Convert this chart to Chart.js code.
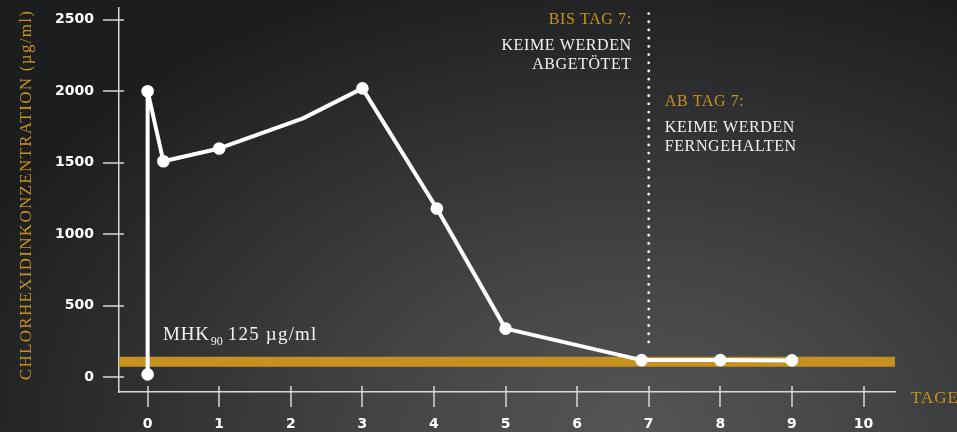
<!DOCTYPE html>
<html><head><meta charset="utf-8">
<script src="https://cdn.jsdelivr.net/npm/chart.js@4"></script>
<style>
html,body{margin:0;padding:0;width:957px;height:432px;overflow:hidden;}
body{background: radial-gradient(ellipse 75% 110% at 66% 100%, #545557 0%, #434446 35%, #2e2f31 70%, #1c1d1f 100%);}
#wrap{position:absolute;left:0;top:0;width:957px;height:432px;}
</style></head>
<body><div id="wrap"><canvas id="c" width="957" height="432"></canvas></div>
<script>
// Data
const days =   [0,  0,    0.22, 1,    2.17, 3,    4.04, 5,   6.9, 8,   9];
const conc =   [20, 2000, 1510, 1600, 1810, 2020, 1180, 340, 120, 120, 118];
const showDot= [1,  1,    1,    1,    0,    1,    1,    1,   1,   1,   1];
const xTicks = [0,1,2,3,4,5,6,7,8,9,10];
const yTicks = [0,500,1000,1500,2000,2500];
const mhkLevel = 109;
const dividerDay = 7;
const dividerRange = [247, 2575];
const xRange = [-0.4, 10.44];
const yRange = [-103, 2582];
const yTitle = 'CHLORHEXIDINKONZENTRATION (µg/ml)';
const xTitle = 'TAGE';
const leftNote = ['BIS TAG 7:', 'KEIME WERDEN', 'ABGETÖTET'];
const rightNote = ['AB TAG 7:', 'KEIME WERDEN', 'FERNGEHALTEN'];

const ORANGE = '#c8911b';
const AXIS = '#d9d9d9';
const SERIF = '"Liberation Serif", "DejaVu Serif", serif';
const SANS = '"DejaVu Sans", sans-serif';

const mainData = days.map((d,i)=>({x:d,y:conc[i]}));

const decor = {
  id:'decor',
  afterDraw(chart){
    const ctx = chart.ctx;
    const xs = chart.scales.x, ys = chart.scales.y;
    ctx.save();
    // tick marks crossing the axes
    ctx.strokeStyle = AXIS; ctx.lineWidth = 1.5;
    const axX = xs.getPixelForValue(xRange[0]);
    const axY = ys.getPixelForValue(yRange[0]);
    yTicks.forEach(v=>{
      const p = Math.round(ys.getPixelForValue(v));
      ctx.beginPath(); ctx.moveTo(axX-16,p); ctx.lineTo(axX+5,p); ctx.stroke();
    });
    xTicks.forEach(v=>{
      const p = Math.round(xs.getPixelForValue(v));
      ctx.beginPath(); ctx.moveTo(p,axY-6); ctx.lineTo(p,axY+15); ctx.stroke();
    });
    // y title
    ctx.fillStyle = ORANGE;
    ctx.font = '17px ' + SERIF;
    ctx.letterSpacing = '1.3px';
    ctx.textAlign = 'center'; ctx.textBaseline = 'alphabetic';
    ctx.translate(31, 195); ctx.rotate(-Math.PI/2);
    ctx.fillText(yTitle, 0, 0);
    ctx.setTransform(1,0,0,1,0,0);
    // x title
    ctx.textAlign = 'left';
    ctx.font = '17px ' + SERIF;
    ctx.letterSpacing = '1px';
    ctx.fillText(xTitle, 911, 403);
    // notes
    const px7 = xs.getPixelForValue(dividerDay);
    ctx.font = '16px ' + SERIF;
    ctx.letterSpacing = '0.6px';
    ctx.textAlign = 'right';
    const lb = [23.5, 49.5, 68.5];
    leftNote.forEach((t,i)=>{ ctx.fillStyle = i===0?ORANGE:'#f2f2f2'; ctx.fillText(t, px7-17, lb[i]); });
    ctx.textAlign = 'left';
    const rb = [106, 131.5, 150.5];
    rightNote.forEach((t,i)=>{ ctx.fillStyle = i===0?ORANGE:'#f2f2f2'; ctx.fillText(t, px7+16, rb[i]); });
    // MHK label
    ctx.fillStyle = '#f2f2f2';
    ctx.letterSpacing = '0.8px';
    ctx.font = '19px ' + SERIF;
    let x = 163;
    ctx.fillText('MHK', x, 339.5); x += ctx.measureText('MHK').width + 1;
    ctx.font = '12px ' + SERIF; ctx.letterSpacing = '0px';
    ctx.fillText('90', x, 344.5); x += ctx.measureText('90').width + 5;
    ctx.font = '19px ' + SERIF; ctx.letterSpacing = '1.2px';
    ctx.fillText('125 µg/ml', x, 339.5);
    ctx.restore();
  }
};

new Chart(document.getElementById('c'), {
  type:'line',
  data:{datasets:[
    {label:'Konzentration', data:mainData, order:0,
     borderColor:'#ffffff', borderWidth:4, borderJoinStyle:'round', borderCapStyle:'round',
     pointRadius: showDot.map(s=>s?6.3:0), pointBackgroundColor:'#ffffff', pointBorderColor:'#ffffff', pointBorderWidth:0,
     tension:0, clip:false},
    {label:'Tag 7', data:[{x:dividerDay,y:dividerRange[0]},{x:dividerDay,y:dividerRange[1]}], order:1,
     borderColor:'#ffffff', borderWidth:2.8, borderDash:[0.01,8.2], borderCapStyle:'round', pointRadius:0, clip:false},
    {label:'MHK90', data:[{x:xRange[0],y:mhkLevel},{x:xRange[1],y:mhkLevel}], order:2,
     borderColor:ORANGE, borderWidth:10, borderCapStyle:'butt', pointRadius:0, clip:false}
  ]},
  options:{
    responsive:false, animation:false, devicePixelRatio:1,
    layout:{padding:{left:0,right:62,top:8,bottom:0}},
    plugins:{legend:{display:false}, tooltip:{enabled:false}},
    scales:{
      x:{type:'linear', min:xRange[0], max:xRange[1],
         afterBuildTicks:(s)=>{s.ticks = xTicks.map(v=>({value:v}));},
         afterFit:(s)=>{s.height = 40; s.paddingLeft = 0; s.paddingRight = 0;},
         grid:{display:false, drawTicks:false}, border:{display:true,color:AXIS,width:1.5},
         ticks:{color:'#ffffff', padding:24, autoSkip:false, maxRotation:0,
                callback:(v)=>String(v),
                font:{family:SANS, size:14, weight:'bold'}}},
      y:{type:'linear', min:yRange[0], max:yRange[1],
         afterBuildTicks:(s)=>{s.ticks = yTicks.map(v=>({value:v}));},
         afterFit:(s)=>{s.width = 119; s.paddingTop = 0; s.paddingBottom = 0;},
         grid:{display:false, drawTicks:false}, border:{display:true,color:AXIS,width:1.5},
         ticks:{color:'#ffffff', padding:25,
                callback:(v)=>String(v),
                font:{family:SANS, size:14, weight:'bold'}}}
    }
  },
  plugins:[decor]
});
</script></body></html>
